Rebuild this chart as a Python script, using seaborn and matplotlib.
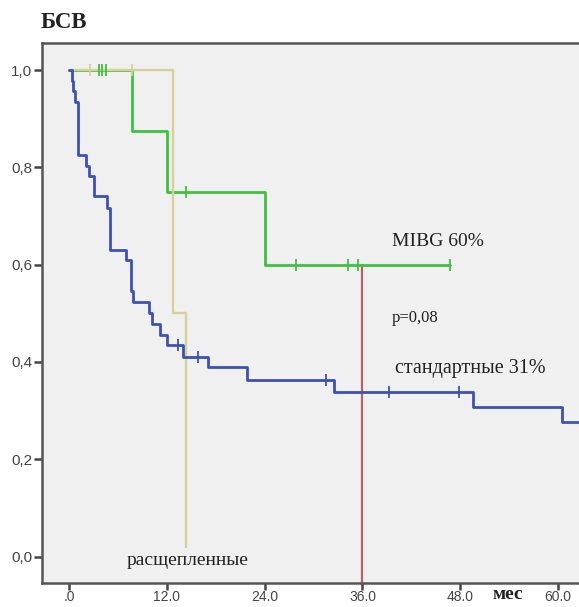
import numpy as np
import pandas as pd
import matplotlib
matplotlib.use("Agg")
import matplotlib.pyplot as plt
import seaborn as sns

# ---- data ----
# стандартные (blue)
std_t = [0, 0.35, 0.55, 0.75, 1.05, 2.1, 2.5, 3.07, 4.7, 5.03, 6.99, 7.57, 7.89,
         9.85, 10.15, 11.17, 12.06, 14.02, 17.03, 21.8, 32.5, 49.6, 60.5, 64.0]
std_s = [1.0, 0.978, 0.957, 0.935, 0.826, 0.803, 0.783, 0.740, 0.717, 0.631, 0.610,
         0.545, 0.524, 0.501, 0.478, 0.456, 0.435, 0.411, 0.389, 0.363, 0.338,
         0.307, 0.277, 0.277]
std_cens_t = [13.4, 15.86, 31.5, 39.3, 47.8]
std_cens_s = [0.435, 0.411, 0.363, 0.338, 0.338]

# MIBG (green)
mibg_t = [0, 7.69, 11.99, 24.1, 46.7]
mibg_s = [1.0, 0.875, 0.75, 0.6, 0.6]
mibg_cens_t = [3.7, 4.1, 4.5, 14.4, 27.9, 34.2, 35.5, 46.7]
mibg_cens_s = [1.0, 1.0, 1.0, 0.75, 0.6, 0.6, 0.6, 0.6]

# расщепленные (khaki)
split_t = [0, 12.7, 14.4]
split_s = [1.0, 0.5, 0.0]
split_cens_t = [2.6, 7.7]
split_cens_s = [1.0, 1.0]

# median marker line
ref_x = 36.0
ref_top = 0.6

x_ticks = [0, 12, 24, 36, 48, 60]
x_labels = [".0", "12.0", "24.0", "36.0", "48.0", "60.0"]
y_ticks = [0.0, 0.2, 0.4, 0.6, 0.8, 1.0]
y_labels = ["0,0", "0,2", "0,4", "0,6", "0,8", "1,0"]

# ---- style ----
sns.set_style("ticks", {"axes.facecolor": "#f0f0f0", "axes.edgecolor": "#555555"})
plt.rcParams["font.family"] = ["Liberation Sans", "DejaVu Sans"]

W, H = 579, 607
fig = plt.figure(figsize=(W / 100, H / 100), dpi=100)
ax = fig.add_axes([42 / W, 1 - 583 / H, (W - 42) / W + 0.002, (583 - 43) / H])

C_BLUE = "#3d52b0"
C_GREEN = "#40c040"
C_KHAKI = "#d6d09a"
C_RED = "#b5606e"

# reference line
ax.plot([ref_x, ref_x], [-0.1, ref_top], color=C_RED, lw=1.6, zorder=1)

sns.lineplot(x=mibg_t, y=mibg_s, ax=ax, drawstyle="steps-post", estimator=None,
             sort=False, color=C_GREEN, lw=2.0, zorder=2)
sns.lineplot(x=split_t, y=split_s, ax=ax, drawstyle="steps-post", estimator=None,
             sort=False, color=C_KHAKI, lw=1.7, zorder=3)
sns.lineplot(x=std_t, y=std_s, ax=ax, drawstyle="steps-post", estimator=None,
             sort=False, color=C_BLUE, lw=2.0, zorder=4)

sns.scatterplot(x=mibg_cens_t, y=mibg_cens_s, ax=ax, marker="|", s=75,
                linewidth=1.3, color=C_GREEN, zorder=5)
sns.scatterplot(x=split_cens_t, y=split_cens_s, ax=ax, marker="|", s=75,
                linewidth=1.3, color=C_KHAKI, zorder=5)
sns.scatterplot(x=std_cens_t, y=std_cens_s, ax=ax, marker="|", s=75,
                linewidth=1.3, color=C_BLUE, zorder=6)

ax.set_xlim(-27 / 8.15, (W + 1 - 69) / 8.15)
ax.set_ylim((556.5 - 583) / 486.5, (556.5 - 43) / 486.5)

ax.set_xticks(x_ticks)
ax.set_xticklabels(x_labels)
ax.set_yticks(y_ticks)
ax.set_yticklabels(y_labels)
ax.tick_params(axis="y", length=6, width=1.8, colors="#444444",
               labelsize=11, pad=1)
ax.tick_params(axis="x", length=5, width=1.8, colors="#444444",
               labelsize=10, pad=0)
for side in ["left", "bottom", "top"]:
    ax.spines[side].set_linewidth(1.8)
    ax.spines[side].set_color("#555555")
ax.spines["right"].set_visible(False)
ax.set_xlabel("")
ax.set_ylabel("")

serif = ["Liberation Serif", "DejaVu Serif"]
ax.text(39.6, 0.6485, "MIBG 60%", family=serif, fontsize=14, va="center",
        ha="left", color="#222222")
ax.text(39.6, 0.49, "p=0,08", family=serif, fontsize=12, va="center",
        ha="left", color="#222222")
ax.text(40.0, 0.387, "стандартные 31%", family=serif, fontsize=14.5, va="center",
        ha="left", color="#222222")
ax.text(14.5, -0.008, "расщепленные", family=serif, fontsize=14, va="center",
        ha="center", color="#222222", zorder=7,
        bbox=dict(facecolor="#f0f0f0", edgecolor="none", pad=2.5))
ax.text(51.9, -0.078, "мес", family=serif, fontsize=14, fontweight="bold",
        va="center", ha="left", color="#222222", clip_on=False)
fig.text(41 / W, 1 - 22 / H, "БСВ", family=serif, fontsize=16.5,
         fontweight="bold", va="center", ha="left", color="#222222")

fig.savefig("out.png", dpi=100, facecolor="white")
